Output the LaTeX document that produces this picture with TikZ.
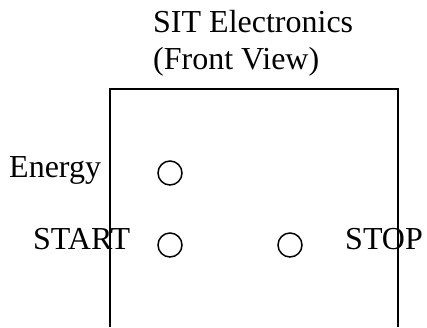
\documentclass[tikz,border=0pt]{standalone}
\usepackage{fontspec}
\setmainfont{Liberation Serif}
\usetikzlibrary{positioning}

\begin{document}
\begin{tikzpicture}[
    x=1pt, y=-1pt,
    font=\fontsize{32}{37}\selectfont,
    lbl/.style  ={inner sep=0pt, anchor=base west},
    btn/.style  ={circle, draw=black, line width=1.5pt, minimum size=24pt,
                  inner sep=0pt},
    panel/.style={line width=1.7pt, draw=black},
  ]
  \useasboundingbox (0,0) rectangle (427,327);
  % title
  \node[lbl] (ttl) at (153,32) {SIT Electronics};
  \node[lbl] (sub) at (153,69) {(Front View)};
  % housing, open at the bottom
  \coordinate (bl) at (110,327);
  \coordinate (tr) at (398,89);
  \coordinate (br) at (398,327);
  \draw[panel] (bl) |- (tr) -- (br);
  % buttons
  \node[btn] (energy) at (170,173) {};
  \node[btn] (start)  at (170,245) {};
  \node[btn] (stop)   at (290,245) {};
  % labels
  \node[lbl] (energylbl) at (9,177)   {Energy};
  \node[lbl] (startlbl)  at (33,249)  {START};
  \node[lbl] (stoplbl)   at (345,249) {STOP};
\end{tikzpicture}
\end{document}
